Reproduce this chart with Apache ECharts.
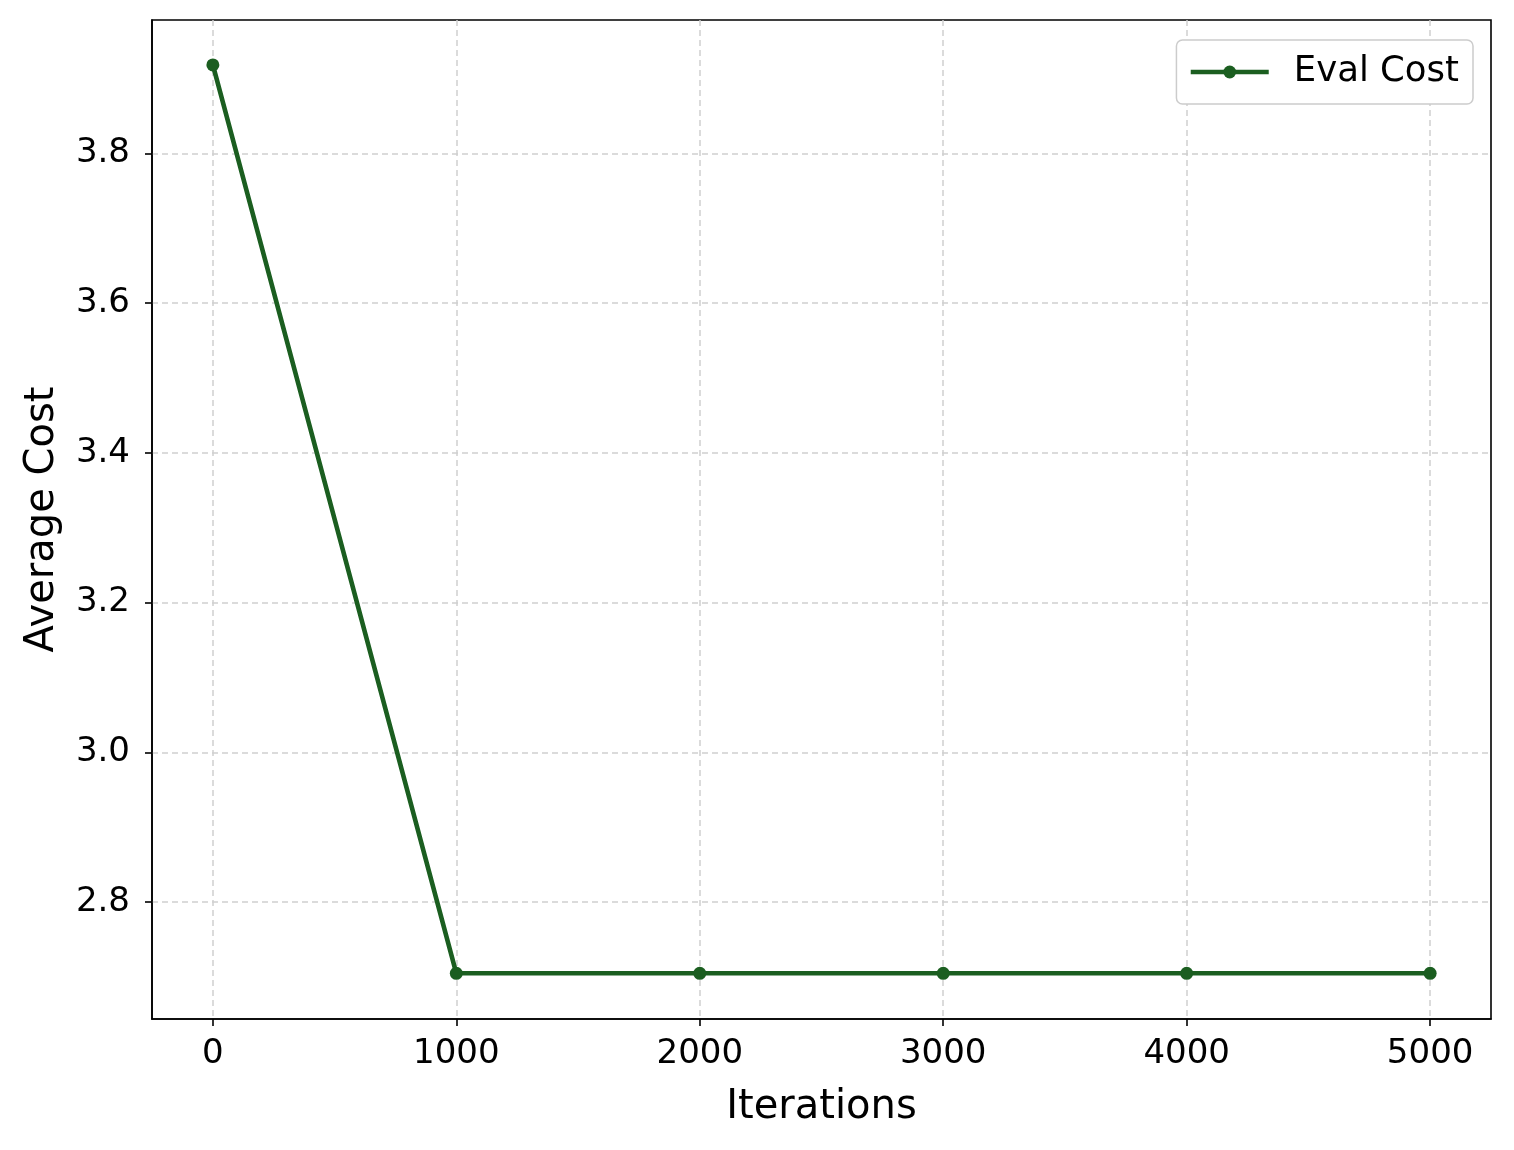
<!DOCTYPE html>
<html>
<head>
<meta charset="utf-8">
<script src="https://cdn.jsdelivr.net/npm/echarts@6/dist/echarts.min.js"></script>
<style>
  html, body { margin: 0; padding: 0; background: #fff; }
  #main { width: 1514px; height: 1150px; }
</style>
</head>
<body>
<div id="main"></div>
<script>
// data
var iterations = [0, 1000, 2000, 3000, 4000, 5000];
var evalCost = [3.918, 2.705, 2.705, 2.705, 2.705, 2.705];
var xTicks = [0, 1000, 2000, 3000, 4000, 5000];
var yTicks = [2.8, 3.0, 3.2, 3.4, 3.6, 3.8];

var font = 'DejaVu Sans';
var green = '#1b5e20';
var points = [];
for (var i = 0; i < iterations.length; i++) {
    points.push([iterations[i], evalCost[i]]);
}

var chart = echarts.init(document.getElementById('main'));
chart.setOption({
    animation: false,
    backgroundColor: '#fff',
    textStyle: { fontFamily: font },
    grid: {
        left: 152, right: 23, top: 20, bottom: 131,
        show: true, borderColor: '#000', borderWidth: 1.6
    },
    legend: {
        right: 41, top: 40,
        backgroundColor: '#fff',
        borderColor: '#cccccc', borderWidth: 1.5, borderRadius: 6,
        padding: [14, 14, 14, 12],
        itemWidth: 78, itemHeight: 16,
        lineStyle: { width: 4.6 },
        textStyle: { fontSize: 35.5, color: '#000', fontFamily: font, padding: [0, 0, 0, 20] },
        data: ['Eval Cost']
    },
    xAxis: {
        type: 'value',
        min: -250, max: 5250,
        name: 'Iterations',
        nameLocation: 'middle',
        nameGap: 69,
        nameTextStyle: { fontSize: 40, color: '#000', fontFamily: font },
        axisLine: { onZero: false, lineStyle: { color: '#000', width: 1.6 } },
        axisTick: { show: true, length: 7, lineStyle: { color: '#000', width: 1.6 }, customValues: xTicks },
        axisLabel: {
            fontSize: 34, color: '#000', margin: 18, customValues: xTicks,
            formatter: function (v) { return String(v); }
        },
        splitLine: { show: true, lineStyle: { color: '#d0d0d0', width: 1.5, type: [6, 4] } }
    },
    yAxis: {
        type: 'value',
        min: 2.644, max: 3.978,
        name: 'Average Cost',
        nameLocation: 'middle',
        nameGap: 89,
        nameTextStyle: { fontSize: 40, color: '#000', fontFamily: font },
        axisLine: { show: true, onZero: false, lineStyle: { color: '#000', width: 1.6 } },
        axisTick: { show: true, length: 7, lineStyle: { color: '#000', width: 1.6 }, customValues: yTicks },
        axisLabel: {
            fontSize: 34, color: '#000', margin: 22, customValues: yTicks,
            formatter: function (v) { return v.toFixed(1); }
        },
        splitLine: { show: true, lineStyle: { color: '#d0d0d0', width: 1.5, type: [6, 4] } }
    },
    series: [{
        name: 'Eval Cost',
        type: 'line',
        data: points,
        color: green,
        lineStyle: { width: 4.6, color: green },
        symbol: 'circle',
        symbolSize: 13,
        itemStyle: { color: green },
        emphasis: { disabled: true }
    }]
});
</script>
</body>
</html>
